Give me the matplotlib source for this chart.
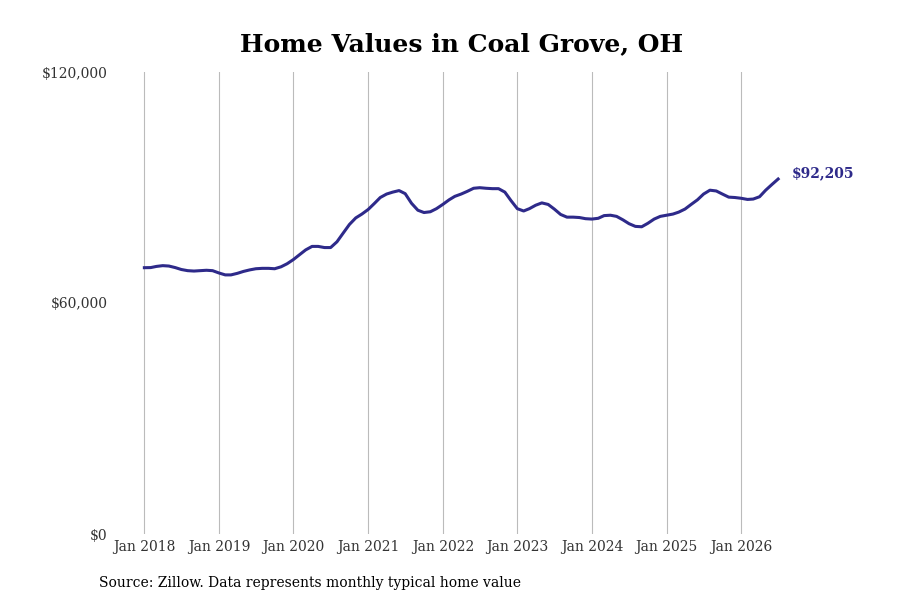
import pandas as pd
import matplotlib.pyplot as plt
import matplotlib.dates as mdates
from matplotlib.ticker import FuncFormatter

# monthly typical home value, Jan 2018 - Jul 2026
months = pd.date_range("2018-01-01", periods=103, freq="MS")
values = [
    69170, 69200, 69500, 69700, 69600, 69200, 68700, 68400, 68300, 68400, 68500, 68400,
    67800, 67300, 67300, 67700, 68200, 68600, 68900, 69000, 69000, 68900, 69400, 70200,
    71300, 72600, 73800, 74700, 74700, 74400, 74400, 75900, 78200, 80400, 82100, 83100,
    84300, 85900, 87400, 88300, 88800, 89200, 88400, 85900, 84100, 83500, 83700, 84500,
    85600, 86800, 87700, 88300, 89000, 89800, 89950, 89800, 89700, 89700, 88800, 86600,
    84500, 83900, 84500, 85400, 86000, 85600, 84400, 83000, 82300, 82300, 82200, 81900,
    81800, 82000, 82700, 82800, 82500, 81600, 80600, 79900, 79800, 80700, 81800, 82500,
    82800, 83100, 83600, 84400, 85600, 86800, 88300, 89300, 89100, 88300, 87500, 87400,
    87200, 86900, 87000, 87600, 89300, 90800, 92205,
]
year_ticks = pd.date_range("2018-01-01", "2026-01-01", freq="YS")
y_ticks = [0, 60000, 120000]

line_color = "#2e2a8a"
plt.rcParams["font.family"] = ["DejaVu Serif"]

fig = plt.figure(figsize=(9, 6), dpi=100)
ax = fig.add_axes([117 / 900, 66 / 600, 693 / 900, 462 / 600])

ax.plot(months, values, color=line_color, linewidth=2.2)
ax.annotate(f"${values[-1]:,}", (months[-1], values[-1]), xytext=(10, 4),
            textcoords="offset points", color=line_color, fontsize=10,
            fontweight="bold", va="center", ha="left")

ax.set_ylim(0, 120000)
ax.set_yticks(y_ticks)
ax.yaxis.set_major_formatter(FuncFormatter(lambda v, p: f"${v:,.0f}"))
ax.set_xticks(year_ticks)
ax.xaxis.set_major_formatter(mdates.DateFormatter("%b %Y"))
ax.set_xlim(pd.Timestamp("2017-08-20"), pd.Timestamp("2026-12-04"))

ax.grid(axis="x", color="#bbbbbb", linewidth=0.8)
ax.grid(axis="y", visible=False)
for s in ax.spines.values():
    s.set_visible(False)
ax.tick_params(length=0, labelsize=10, labelcolor="#333333")
ax.tick_params(axis="x", pad=4)
ax.tick_params(axis="y", pad=7)

fig.suptitle("Home Values in Coal Grove, OH", fontsize=18, fontweight="bold",
             x=0.513, y=0.947)
fig.text(99 / 900, 1 - 583 / 600, "Source: Zillow. Data represents monthly typical home value",
         fontsize=10, va="center", ha="left")

fig.savefig("out.png", dpi=100)
